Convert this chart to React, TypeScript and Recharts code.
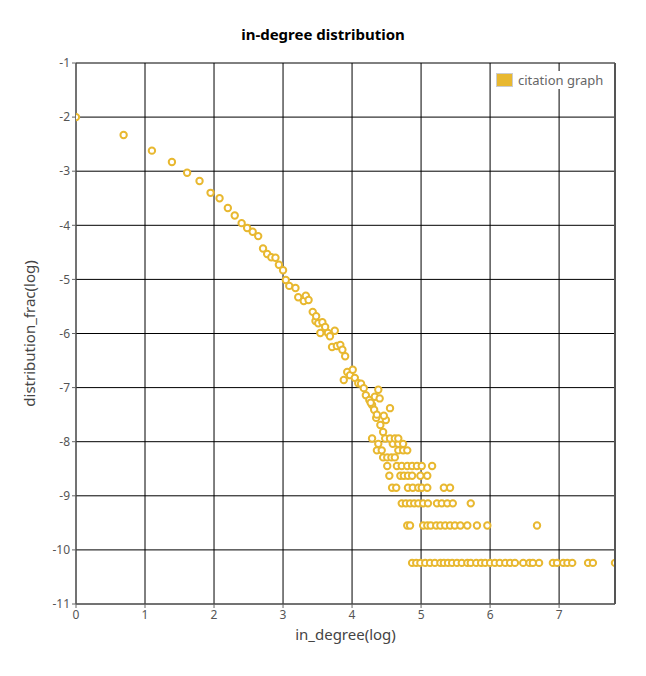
import React from "react";
import {
  ScatterChart,
  Scatter,
  XAxis,
  YAxis,
  CartesianGrid,
  Label,
} from "recharts";

const GOLD = "#E8B830";
const X_TICKS = [0, 1, 2, 3, 4, 5, 6, 7];
const Y_TICKS = [-11, -10, -9, -8, -7, -6, -5, -4, -3, -2, -1];

// [ln(in_degree), ln(fraction)]
const HEAD: [number, number][] = [
  [0, -2.0], [0.69, -2.33], [1.1, -2.62], [1.39, -2.83], [1.61, -3.03],
  [1.79, -3.18], [1.95, -3.4], [2.08, -3.5], [2.2, -3.68], [2.3, -3.82],
  [2.4, -3.96], [2.48, -4.05], [2.56, -4.12], [2.64, -4.2], [2.71, -4.43],
  [2.77, -4.53], [2.83, -4.59], [2.89, -4.6], [2.94, -4.73], [3.0, -4.83],
  [3.04, -5.01], [3.09, -5.12], [3.18, -5.16], [3.22, -5.33], [3.3, -5.4],
  [3.33, -5.3], [3.37, -5.38], [3.43, -5.6], [3.47, -5.77], [3.48, -5.68],
  [3.51, -5.81], [3.57, -5.79], [3.61, -5.88], [3.54, -5.99], [3.65, -5.99],
  [3.68, -6.05], [3.75, -5.95], [3.71, -6.25], [3.78, -6.23], [3.83, -6.21],
  [3.86, -6.3], [3.9, -6.42], [3.88, -6.86], [3.93, -6.71], [3.97, -6.77],
  [4.01, -6.67], [4.04, -6.82], [4.09, -6.92], [4.13, -6.93], [4.17, -7.01],
  [4.2, -7.14], [4.25, -7.23], [4.29, -7.32], [4.32, -7.41], [4.38, -7.04],
  [4.35, -7.56], [4.41, -7.69], [4.45, -7.82], [4.49, -7.6], [4.55, -7.38],
  [4.27, -7.28], [4.33, -7.17], [4.36, -7.5], [4.46, -7.52], [4.4, -7.2],
];

// quantized tail rows: y = ln(k) - 10.24
const ROW_Y = [-10.24, -9.55, -9.14, -8.85, -8.63, -8.45, -8.29, -8.16, -8.04, -7.94];
const ROW_X: number[][] = [
  [4.87, 4.93, 4.99, 5.06, 5.13, 5.2, 5.28, 5.33, 5.39, 5.45, 5.52, 5.59, 5.67, 5.72, 5.8, 5.87, 5.93, 6.0, 6.07, 6.14, 6.22, 6.29, 6.36, 6.48, 6.57, 6.62, 6.71, 6.91, 6.97, 7.06, 7.12, 7.19, 7.42, 7.49, 7.81],
  [4.8, 4.84, 5.03, 5.09, 5.14, 5.22, 5.28, 5.35, 5.42, 5.49, 5.57, 5.67, 5.81, 5.96, 6.68],
  [4.72, 4.78, 4.84, 4.9, 4.96, 5.03, 5.1, 5.23, 5.3, 5.38, 5.46, 5.72],
  [4.58, 4.64, 4.81, 4.88, 4.96, 5.01, 5.09, 5.33, 5.42],
  [4.54, 4.7, 4.75, 4.81, 4.87, 4.99, 5.09],
  [4.51, 4.65, 4.72, 4.8, 4.87, 4.94, 5.01, 5.16],
  [4.45, 4.51, 4.57, 4.62],
  [4.36, 4.43, 4.67, 4.74, 4.8],
  [4.38, 4.59, 4.67, 4.74],
  [4.29, 4.48, 4.55, 4.62, 4.67],
];

const data = [
  ...HEAD.map(([x, y]) => ({ x, y })),
  ...ROW_X.flatMap((xs, i) => xs.map((x) => ({ x, y: ROW_Y[i] }))),
];

const FONT = "'Noto Sans', sans-serif";

const Dot = (props: any) => (
  <circle cx={props.cx} cy={props.cy} r={3.2} fill="#fff" stroke={GOLD} strokeWidth={2} />
);

export default function App() {
  return (
    <div style={{ position: "relative", width: 630, height: 660 }}>
      <div
        style={{
          position: "absolute", top: 16, left: 0, width: 630, textAlign: "center",
          fontFamily: FONT, fontWeight: "bold", fontSize: 15, color: "#000",
        }}
      >
        in-degree distribution
      </div>
      <ScatterChart width={630} height={660} margin={{ top: 55, right: 23, bottom: 34, left: 0 }}>
        <CartesianGrid stroke="#000" strokeWidth={1} />
        <XAxis
          type="number"
          dataKey="x"
          domain={[0, 7.81]}
          ticks={X_TICKS}
          allowDataOverflow
          height={30}
          stroke="#666"
          tick={{ fill: "#555", fontSize: 12, fontFamily: FONT }}
          tickSize={4}
        >
          <Label value="in_degree(log)" position="insideBottom" offset={-6} style={{ fill: "#444", fontSize: 15, fontFamily: FONT }} />
        </XAxis>
        <YAxis
          type="number"
          dataKey="y"
          domain={[-11, -1]}
          ticks={Y_TICKS}
          width={68}
          stroke="#666"
          tick={{ fill: "#555", fontSize: 12, fontFamily: FONT }}
          tickSize={4}
        >
          <Label value="distribution_frac(log)" angle={-90} position="insideLeft" offset={22} style={{ fill: "#444", fontSize: 15, fontFamily: FONT, textAnchor: "middle" }} />
        </YAxis>
        <Scatter name="citation graph" data={data} shape={<Dot />} isAnimationActive={false} />
      </ScatterChart>
      <div
        style={{
          position: "absolute", top: 63, left: 488, display: "flex", alignItems: "center",
          fontFamily: FONT, fontSize: 13, color: "#666", background: "#fff", paddingRight: 4,
        }}
      >
        <span style={{ width: 15, height: 12, background: GOLD, border: "1px solid #ccc", marginRight: 5 }} />
        citation graph
      </div>
      <div style={{ position: "absolute", left: 606, top: 55, width: 2, height: 541, background: "#555" }} />
    </div>
  );
}
